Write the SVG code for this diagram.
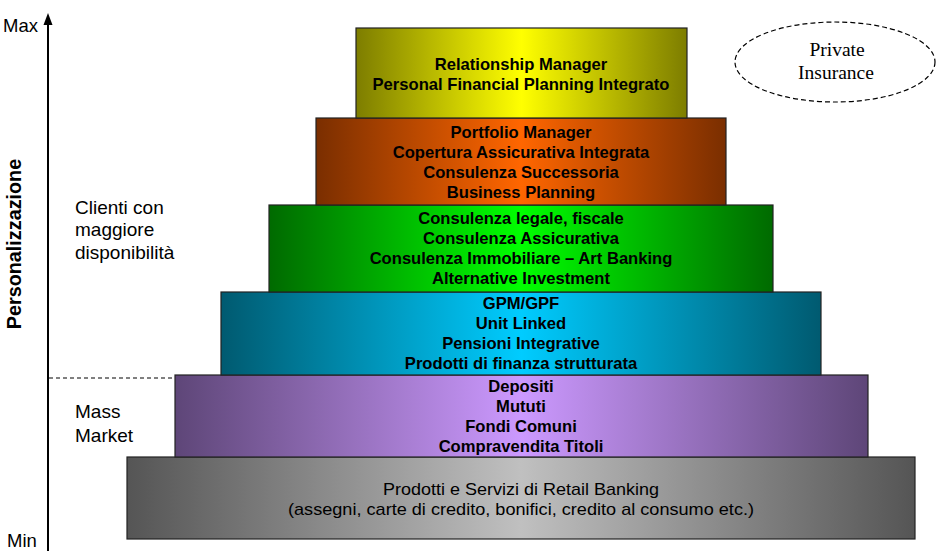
<svg xmlns="http://www.w3.org/2000/svg" width="950" height="554" viewBox="0 0 950 554">
<style>
.box{stroke:#222;stroke-width:1.2}
.t{font-family:"Liberation Sans",Arial,sans-serif;font-weight:bold;font-size:16.6px;text-anchor:middle;fill:#000}
.lbl{font-family:"Liberation Sans",Arial,sans-serif;font-size:19px;fill:#000}
.serif{font-family:"Liberation Serif","Times New Roman",serif;font-size:19.5px;text-anchor:middle;fill:#000}
</style>
<defs>
<linearGradient id="gY" x1="0" x2="1" y1="0" y2="0"><stop offset="0" stop-color="#7d7d00"/><stop offset="0.5" stop-color="#ffff00"/><stop offset="1" stop-color="#7d7d00"/></linearGradient>
<linearGradient id="gO" x1="0" x2="1" y1="0" y2="0"><stop offset="0" stop-color="#7a2e00"/><stop offset="0.5" stop-color="#ff6600"/><stop offset="1" stop-color="#7a2e00"/></linearGradient>
<linearGradient id="gG" x1="0" x2="1" y1="0" y2="0"><stop offset="0" stop-color="#006a00"/><stop offset="0.5" stop-color="#00ff00"/><stop offset="1" stop-color="#006a00"/></linearGradient>
<linearGradient id="gC" x1="0" x2="1" y1="0" y2="0"><stop offset="0" stop-color="#005a70"/><stop offset="0.5" stop-color="#00ccff"/><stop offset="1" stop-color="#005a70"/></linearGradient>
<linearGradient id="gP" x1="0" x2="1" y1="0" y2="0"><stop offset="0" stop-color="#5e4678"/><stop offset="0.5" stop-color="#cc99ff"/><stop offset="1" stop-color="#5e4678"/></linearGradient>
<linearGradient id="gS" x1="0" x2="1" y1="0" y2="0"><stop offset="0" stop-color="#555555"/><stop offset="0.5" stop-color="#c0c0c0"/><stop offset="1" stop-color="#555555"/></linearGradient>
</defs>

<g id="connectors">
<line x1="48" y1="551" x2="48" y2="22" stroke="#000" stroke-width="2"/>
<polygon points="48,13 43.5,25 52.5,25" fill="#000"/>
<line x1="49" y1="378" x2="175" y2="378" stroke="#000" stroke-width="1" stroke-dasharray="4,3"/>
</g>

<g id="axis-labels">
<text class="lbl" x="3" y="32" style="font-size:18.5px">Max</text>
<text class="lbl" x="7" y="547" style="font-size:18.5px">Min</text>
<text x="21" y="244" transform="rotate(-90 21 244)" style="font-family:'Liberation Sans',Arial,sans-serif;font-weight:bold;font-size:19.8px;text-anchor:middle">Personalizzazione</text>
</g>

<g id="label-clienti">
<text class="lbl" x="75" y="214">Clienti con</text>
<text class="lbl" x="75" y="236">maggiore</text>
<text class="lbl" x="75" y="259">disponibilità</text>
</g>
<g id="label-mass">
<text class="lbl" x="75" y="418">Mass</text>
<text class="lbl" x="75" y="442">Market</text>
</g>

<g id="private-insurance">
<ellipse cx="835" cy="62" rx="100" ry="40" fill="none" stroke="#000" stroke-width="1.2" stroke-dasharray="5,3"/>
<text class="serif" x="837" y="56">Private</text>
<text class="serif" x="836" y="79">Insurance</text>
</g>

<g id="level-gray">
<rect class="box" x="127" y="457" width="788" height="82" fill="url(#gS)"/>
<text class="t" x="521" y="495" style="font-weight:normal;font-size:17px" textLength="276" lengthAdjust="spacingAndGlyphs">Prodotti e Servizi di Retail Banking</text>
<text class="t" x="521" y="515" style="font-weight:normal;font-size:17px" textLength="466" lengthAdjust="spacingAndGlyphs">(assegni, carte di credito, bonifici, credito al consumo etc.)</text>
</g>

<g id="level-purple">
<rect class="box" x="175" y="375" width="693" height="82" fill="url(#gP)"/>
<text class="t" x="521" y="392">Depositi</text>
<text class="t" x="521" y="412">Mututi</text>
<text class="t" x="521" y="432">Fondi Comuni</text>
<text class="t" x="521" y="452">Compravendita Titoli</text>
</g>

<g id="level-cyan">
<rect class="box" x="221" y="292" width="600" height="83" fill="url(#gC)"/>
<text class="t" x="521" y="309">GPM/GPF</text>
<text class="t" x="521" y="329">Unit Linked</text>
<text class="t" x="521" y="349">Pensioni Integrative</text>
<text class="t" x="521" y="369">Prodotti di finanza strutturata</text>
</g>

<g id="level-green">
<rect class="box" x="269" y="205" width="504" height="87" fill="url(#gG)"/>
<text class="t" x="521" y="224">Consulenza legale, fiscale</text>
<text class="t" x="521" y="244">Consulenza Assicurativa</text>
<text class="t" x="521" y="264">Consulenza Immobiliare – Art Banking</text>
<text class="t" x="521" y="284">Alternative Investment</text>
</g>

<g id="level-orange">
<rect class="box" x="316" y="118" width="410" height="87" fill="url(#gO)"/>
<text class="t" x="521" y="138">Portfolio Manager</text>
<text class="t" x="521" y="158">Copertura Assicurativa Integrata</text>
<text class="t" x="521" y="178">Consulenza Successoria</text>
<text class="t" x="521" y="198">Business Planning</text>
</g>

<g id="level-yellow">
<rect class="box" x="356" y="28" width="331" height="90" fill="url(#gY)"/>
<text class="t" x="521" y="70">Relationship Manager</text>
<text class="t" x="521" y="90">Personal Financial Planning Integrato</text>
</g>
</svg>
